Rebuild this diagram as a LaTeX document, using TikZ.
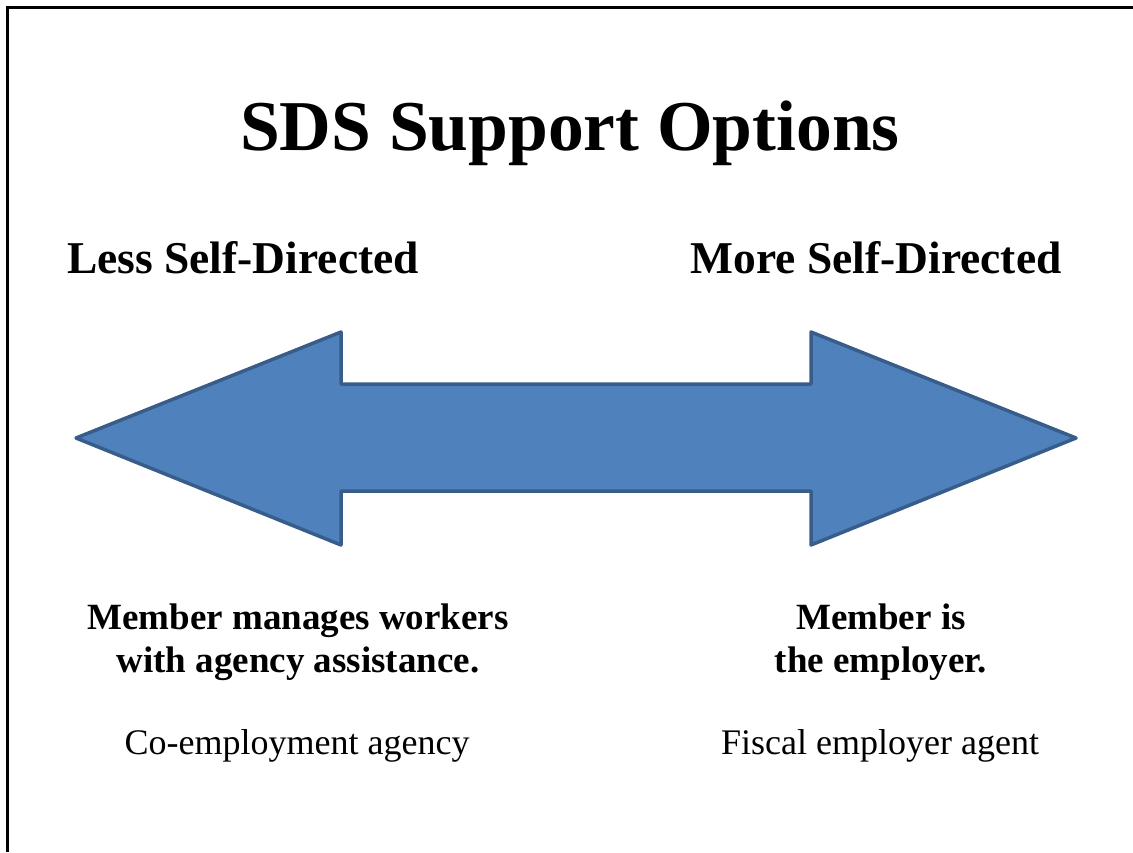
\documentclass[tikz,border=0pt]{standalone}
\usepackage{fontspec}
\setmainfont{Liberation Serif}
\definecolor{arrowfill}{HTML}{4F81BD}
\definecolor{arrowedge}{HTML}{385D8A}
\begin{document}
\begin{tikzpicture}
  [x=1pt,y=-1pt,
   headline/.style={font=\bfseries\fontsize{71.5}{80}\selectfont,inner sep=0,anchor=base},
   endlabel/.style={font=\bfseries\fontsize{45.5}{50}\selectfont,inner sep=0,anchor=base},
   roletext/.style={font=\bfseries\fontsize{37}{43}\selectfont,align=center,inner sep=0},
   agenttext/.style={font=\fontsize{36}{40}\selectfont,inner sep=0,anchor=base}]
  \useasboundingbox (0,0) rectangle (1133,852);
  \fill[white] (0,0) rectangle (1133,852);
  % frame, top and left only
  \draw[line width=3pt] (1133,7) -- (7.5,7) -- (7.5,852);
  % the double arrow
  \draw[arrowedge,fill=arrowfill,line width=3.5pt,line join=round]
    (76,438) -- (341,332) -- (341,384) -- (811,384) -- (811,332) -- (1076,438)
    -- (811,545) -- (811,491) -- (341,491) -- (341,545) -- cycle;
  \node[headline] (title) at (570,150) {SDS Support Options};
  \node[endlabel] (less) at (243,273) {Less Self-Directed};
  \node[endlabel] (more) at (876,273) {More Self-Directed};
  \node[roletext] (lessrole) at (298,642) {Member manages workers\\with agency assistance.};
  \node[roletext] (morerole) at (881,642) {Member is\\the employer.};
  \node[agenttext] (lessagent) at (297,754) {Co-employment agency};
  \node[agenttext] (moreagent) at (880,754) {Fiscal employer agent};
\end{tikzpicture}
\end{document}
